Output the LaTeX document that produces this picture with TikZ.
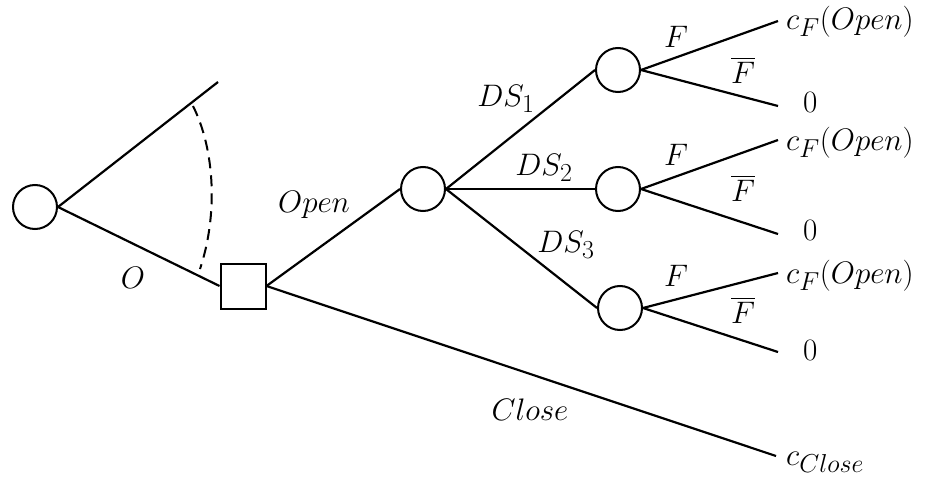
\documentclass[tikz,border=0pt]{standalone}
\usepackage{amsmath}
\usepackage{graphicx}
% enlarged math label (CM sizes stop at \Huge)
\newcommand{\lm}[1]{\scalebox{1.25}{$#1$}}
\begin{document}
\begin{tikzpicture}[x=1pt,y=-1pt,
  chance/.style={draw,circle,line width=2pt,minimum size=44pt,inner sep=0pt},
  decision/.style={draw,rectangle,line width=2pt,minimum size=45pt,inner sep=0pt},
  branch/.style={line width=2.2pt},
  lbl/.style={inner sep=0pt,font=\Huge},
  payoff/.style={inner sep=0pt,anchor=west,font=\Huge}]
\useasboundingbox (0,0) rectangle (930,479);

% nodes
\node[chance] (c0) at (35,207) {};
\node[decision] (d) at (243,286) {};
\node[chance] (c1) at (423,189) {};
\node[chance] (s1) at (618,70) {};
\node[chance] (s2) at (618,189) {};
\node[chance] (s3) at (620,308) {};

% branch ends
\coordinate (up) at (218,82);
\coordinate (f1) at (778,21);
\coordinate (n1) at (778,106);
\coordinate (f2) at (778,140);
\coordinate (n2) at (778,234);
\coordinate (f3) at (778,273);
\coordinate (n3) at (778,352);
\coordinate (cl) at (776,456);

% branches
\draw[branch] (c0.east) -- (up);
\draw[branch] (c0.east) -- (d.west);
\draw[branch] (d.east) -- (c1.west);
\draw[branch] (d.east) -- (cl);
\draw[branch] (c1.east) -- (s1.west);
\draw[branch] (c1.east) -- (s2.west);
\draw[branch] (c1.east) -- (s3.west);
\foreach \s/\f/\n in {s1/f1/n1, s2/f2/n2, s3/f3/n3}{
  \draw[branch] (\s.east) -- (\f);
  \draw[branch] (\s.east) -- (\n);
}

% dashed arc between the two first branches
\coordinate (a1) at (193,106);
\coordinate (a2) at (200,269);
\draw[line width=2pt,dash pattern=on 11pt off 7pt] (a1) .. controls (215,150) and (218,215) .. (a2);

% branch labels
\node[lbl] (lO) at (133,278) {\lm{O}};
\node[lbl] (lopen) at (314,205) {\lm{Open}};
\node[lbl] (lds1) at (506,99) {\lm{DS_1}};
\node[lbl] (lds2) at (544,168) {\lm{DS_2}};
\node[lbl] (lds3) at (566,245) {\lm{DS_3}};
\node[lbl] (lclose) at (530,410) {\lm{Close}};
\node[lbl] (lf1) at (676,37) {\lm{F}};
\node[lbl] (lnf1) at (743,70) {\lm{\overline{F}}};
\node[lbl] (lf2) at (676,155) {\lm{F}};
\node[lbl] (lnf2) at (743,188) {\lm{\overline{F}}};
\node[lbl] (lf3) at (676,276) {\lm{F}};
\node[lbl] (lnf3) at (743,310) {\lm{\overline{F}}};

% payoffs
\node[payoff] (p1) at (786,22) {\lm{c_F(Open)}};
\node[payoff] (z1) at (803,102) {\lm{0}};
\node[payoff] (p2) at (786,143) {\lm{c_F(Open)}};
\node[payoff] (z2) at (803,230) {\lm{0}};
\node[payoff] (p3) at (786,276) {\lm{c_F(Open)}};
\node[payoff] (z3) at (803,350) {\lm{0}};
\node[payoff] (pc) at (786,462) {\lm{c_{Close}}};
\end{tikzpicture}
\end{document}
